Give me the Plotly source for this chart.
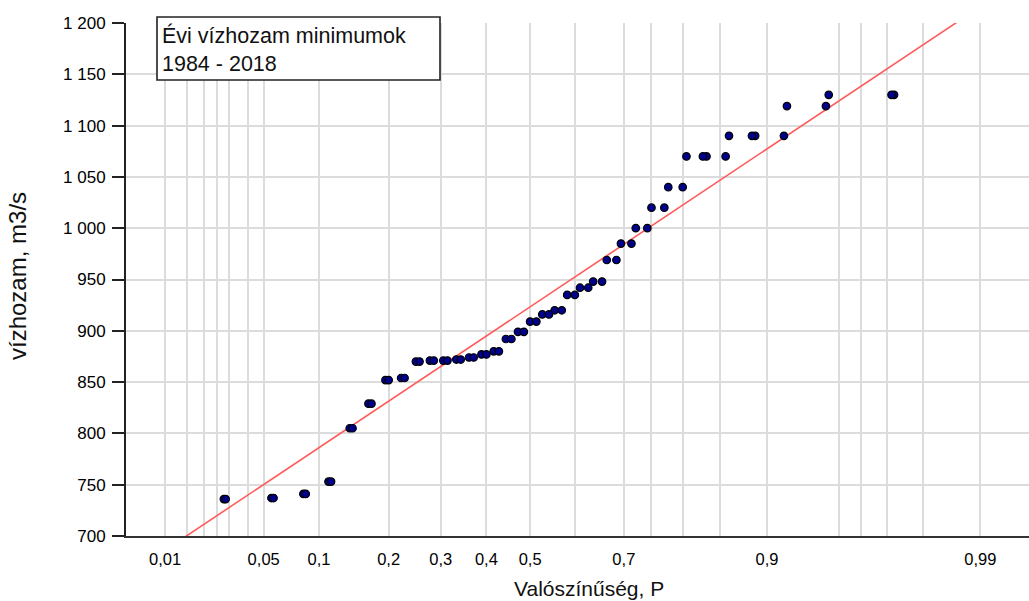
import numpy as np
import plotly.graph_objects as go
from statistics import NormalDist

# ---- data ----
# Annual minimum discharges 1984-2018, sorted ascending (m3/s)
flow = [736, 737, 741, 753, 805, 829, 852, 854, 870, 871, 871, 872, 874, 877, 880,
        892, 899, 909, 916, 920, 935, 942, 948, 969, 985, 1000, 1020, 1040,
        1070, 1070, 1090, 1090, 1119, 1130, 1130]
skew_cs = 0.27  # skew of the Pearson III probability paper

grid_p = [0.01, 0.015, 0.02, 0.025, 0.03, 0.04, 0.05, 0.1, 0.2, 0.3, 0.4, 0.5,
          0.6, 0.7, 0.75, 0.8, 0.85, 0.9, 0.95, 0.96, 0.97, 0.98, 0.99]
tick_p = [0.01, 0.05, 0.1, 0.2, 0.3, 0.4, 0.5, 0.7, 0.9, 0.99]
tick_labels = ["0,01", "0,05", "0,1", "0,2", "0,3", "0,4", "0,5", "0,7", "0,9", "0,99"]
y_ticks = [700, 750, 800, 850, 900, 950, 1000, 1050, 1100, 1150, 1200]

box_lines = ["Évi vízhozam minimumok", "1984 - 2018"]
x_title = "Valószínűség, P"
y_title = "vízhozam, m3/s"

# ---- probability-paper transform (Pearson III frequency factor) ----
_nd = NormalDist()


def freq_factor(p):
    z = _nd.inv_cdf(float(p))
    k = skew_cs / 6.0
    return (2.0 / skew_cs) * ((1.0 + k * z - k * k) ** 3 - 1.0)


n = len(flow)
rank = np.arange(1, n + 1)
p_weibull = rank / (n + 1)
p_simple = rank[:-1] / n

x_a = [freq_factor(p) for p in p_weibull]
x_b = [freq_factor(p) for p in p_simple]

mean_q = float(np.mean(flow))
std_q = float(np.std(flow, ddof=1))

x_range = [-2.35, 2.801]
fit_x = [x_range[0], x_range[1]]
fit_y = [mean_q + std_q * u for u in fit_x]

grid_vals = [freq_factor(p) for p in grid_p]
grid_text = []
for p in grid_p:
    txt = ""
    for tp, tl in zip(tick_p, tick_labels):
        if abs(tp - p) < 1e-9:
            txt = tl
    grid_text.append(txt)

FONT = "Liberation Sans, Arial, sans-serif"

fig = go.Figure()
fig.add_trace(go.Scatter(x=fit_x, y=fit_y, mode="lines",
                         line=dict(color="#ff5a5a", width=1.6),
                         hoverinfo="skip", showlegend=False))
marker = dict(size=7.5, color="#00008b", line=dict(color="#000000", width=1.2))
fig.add_trace(go.Scatter(x=x_a, y=flow, mode="markers", marker=marker, showlegend=False))
fig.add_trace(go.Scatter(x=x_b, y=flow[:-1], mode="markers", marker=marker, showlegend=False))

W, H = 1029, 601
L, R, T, B = 126, 0, 23, 65
pw, ph = W - L - R, H - T - B


def px_x(px):
    return (px - L) / pw


def px_y(py):
    return (H - B - py) / ph


fig.update_layout(
    width=W, height=H,
    margin=dict(l=L, r=R, t=T, b=B, pad=0),
    paper_bgcolor="white", plot_bgcolor="white",
    separators=", ",
    showlegend=False,
    font=dict(family=FONT, size=16, color="#000000"),
    xaxis=dict(range=x_range, tickmode="array", tickvals=grid_vals, ticktext=grid_text,
               showgrid=True, gridcolor="#dcdcdc", gridwidth=1.6,
               showline=True, linecolor="#333333", linewidth=2,
               ticks="", zeroline=False, tickfont=dict(size=16.5, family=FONT),
               ticklabelstandoff=7),
    yaxis=dict(range=[700, 1200], tickmode="array", tickvals=y_ticks, tickformat=",d",
               showgrid=True, gridcolor="#dcdcdc", gridwidth=1.6,
               showline=True, linecolor="#222222", linewidth=2,
               ticks="outside", ticklen=12, tickwidth=2, tickcolor="#222222",
               zeroline=False, tickfont=dict(size=17, family=FONT),
               ticklabelstandoff=3),
)

# text box
fig.add_shape(type="rect", xref="paper", yref="paper",
              x0=px_x(157), x1=px_x(440), y0=px_y(80), y1=px_y(17),
              line=dict(color="#222222", width=1.6), fillcolor="white", layer="above")
fig.add_annotation(xref="paper", yref="paper", x=px_x(160), y=px_y(49.5),
                   xanchor="left", yanchor="middle", align="left", showarrow=False,
                   text="<br>".join(box_lines), font=dict(size=21.5, family=FONT, color="#111111"))

# axis titles
fig.add_annotation(xref="paper", yref="paper", x=px_x(589), y=px_y(588),
                   xanchor="center", yanchor="middle", showarrow=False,
                   text=x_title, font=dict(size=21, family=FONT, color="#111111"))
fig.add_annotation(xref="paper", yref="paper", x=px_x(17), y=px_y(276),
                   xanchor="center", yanchor="middle", showarrow=False, textangle=-90,
                   text=y_title, font=dict(size=24, family=FONT, color="#111111"))

fig.write_html("out.html")
